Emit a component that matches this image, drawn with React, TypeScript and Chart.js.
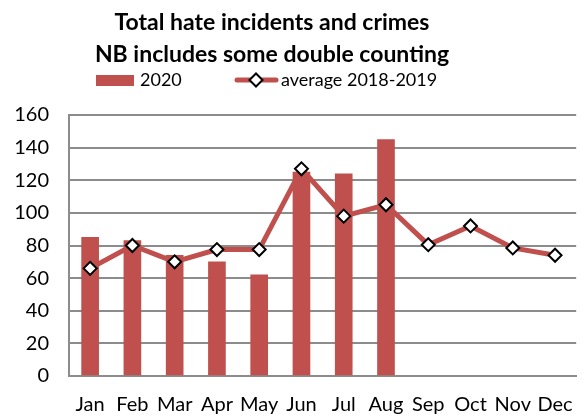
import React, { useEffect, useRef } from "react";
import { Chart, registerables } from "chart.js";

Chart.register(...registerables);

const months = ["Jan", "Feb", "Mar", "Apr", "May", "Jun", "Jul", "Aug", "Sep", "Oct", "Nov", "Dec"];
const values2020: (number | null)[] = [85, 83, 74, 70, 62, 125, 124, 145, null, null, null, null];
const average20182019 = [66, 80, 70, 77.5, 77.5, 127, 98, 105, 80.5, 92, 78.5, 74];
const titleLines = ["Total hate incidents and crimes", "NB includes some double counting"];
const legendLabels = ["2020", "average 2018-2019"];

const RED = "#C0504D";
const FONT = "Lato, 'Open Sans', sans-serif";

const headerPlugin = {
  id: "header",
  afterDraw(chart: any) {
    const ctx = chart.ctx as CanvasRenderingContext2D;
    ctx.save();
    ctx.fillStyle = "#000";
    ctx.textAlign = "center";
    ctx.textBaseline = "alphabetic";
    ctx.font = `bold 23px ${FONT}`;
    ctx.fillText(titleLines[0], 272, 30);
    ctx.fillText(titleLines[1], 272, 62);

    // legend: bar swatch
    ctx.fillStyle = RED;
    ctx.fillRect(96, 75, 38, 11);
    ctx.fillStyle = "#000";
    ctx.textAlign = "left";
    ctx.font = `18px ${FONT}`;
    ctx.fillText(legendLabels[0], 140, 86);

    // legend: line with diamond
    ctx.strokeStyle = RED;
    ctx.lineWidth = 5;
    ctx.lineCap = "round";
    ctx.beginPath();
    ctx.moveTo(237, 80);
    ctx.lineTo(276, 80);
    ctx.stroke();
    const cx = 256, cy = 80, r = 6.5;
    ctx.beginPath();
    ctx.moveTo(cx - r, cy);
    ctx.lineTo(cx, cy - r);
    ctx.lineTo(cx + r, cy);
    ctx.lineTo(cx, cy + r);
    ctx.closePath();
    ctx.fillStyle = "#fff";
    ctx.fill();
    ctx.lineWidth = 2;
    ctx.strokeStyle = "#000";
    ctx.stroke();
    ctx.fillStyle = "#000";
    ctx.fillText(legendLabels[1], 281, 86);
    ctx.restore();
  },
};

export default function App() {
  const ref = useRef<HTMLCanvasElement | null>(null);
  useEffect(() => {
    document.body.style.margin = "0";
    document.body.style.overflow = "hidden";
    const chart = new Chart(ref.current!, {
      type: "bar",
      data: {
        labels: months,
        datasets: [
          {
            type: "line",
            label: legendLabels[1],
            data: average20182019,
            borderColor: RED,
            borderWidth: 5,
            pointStyle: "rectRot",
            pointRadius: 6.5,
            pointBackgroundColor: "#fff",
            pointBorderColor: "#000",
            pointBorderWidth: 2,
            tension: 0,
            order: 0,
          },
          {
            type: "bar",
            label: legendLabels[0],
            data: values2020,
            backgroundColor: RED,
            barThickness: 17,
            order: 1,
          },
        ],
      } as any,
      options: {
        responsive: false,
        animation: false,
        layout: { padding: { top: 115, left: 0, right: 0, bottom: 0 } },
        plugins: {
          legend: { display: false },
          title: { display: false },
          tooltip: { enabled: false },
        },
        scales: {
          x: {
            grid: { display: false, drawTicks: false },
            border: { display: true, color: "#8c8c8c", width: 2 },
            ticks: { color: "#000", font: { family: FONT, size: 20 }, padding: 17, maxRotation: 0 },
            afterFit: (s: any) => { s.height = 43; },
          },
          y: {
            min: 0,
            max: 160,
            ticks: { stepSize: 20, color: "#000", font: { family: FONT, size: 20 }, padding: 20 },
            grid: { color: "#8c8c8c", lineWidth: 2, drawTicks: false },
            border: { display: true, color: "#8c8c8c", width: 2 },
            afterFit: (s: any) => { s.width = 69; },
          },
        },
      },
      plugins: [headerPlugin],
    });
    return () => chart.destroy();
  }, []);
  return (
    <div style={{ position: "fixed", left: 0, top: 0, width: 590, height: 419 }}>
      <canvas ref={ref} width={590} height={419} style={{ width: 590, height: 419 }} />
    </div>
  );
}
